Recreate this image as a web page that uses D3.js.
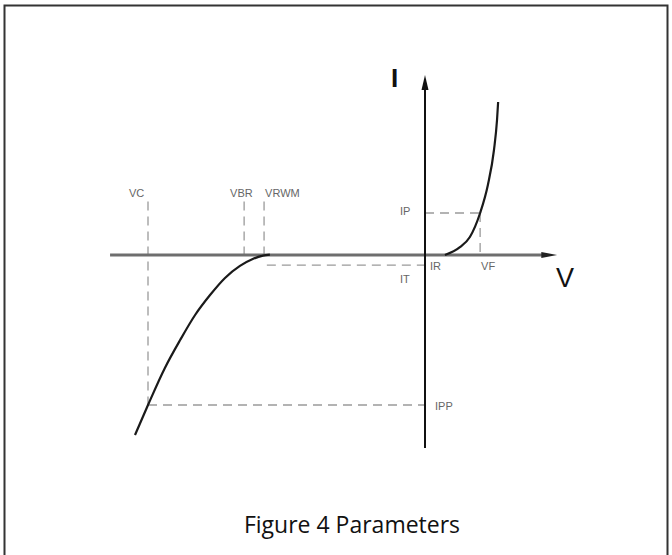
<!DOCTYPE html>
<html>
<head>
<meta charset="utf-8">
<script src="https://cdn.jsdelivr.net/npm/d3@7"></script>
<style>
  body { margin: 0; background: #fff; }
  svg { display: block; }
</style>
</head>
<body>
<div id="chart"></div>
<script>
// forward conduction branch (V, I in normalised units: VC = -1, IPP = -1)
var forwardV = [0.072, 0.126, 0.162, 0.199, 0.227, 0.249, 0.260, 0.264];
var forwardI = [0, 0.053, 0.12, 0.28, 0.467, 0.7, 0.9, 1.02];

// reverse / breakdown branch
var reverseV = [-1.047, -1.0, -0.939, -0.884, -0.830, -0.776, -0.722, -0.668, -0.620, -0.585, -0.560];
var reverseI = [-1.2, -1.0, -0.753, -0.567, -0.4, -0.267, -0.153, -0.073, -0.025, -0.004, 0.002];

// parameter markers
var voltLabels = ['VC', 'VBR', 'VRWM', 'VF'];
var voltValues = [-1.0, -0.653, -0.581, 0.199];
var currLabels = ['IP', 'IT', 'IPP', 'IR'];
var currValues = [0.28, -0.067, -1.0, 0];

var width = 672;
var height = 555;

var svg = d3.select('#chart')
    .append('svg')
    .attr('width', width)
    .attr('height', height);

// frame
svg.append('rect')
    .attr('x', 4.5)
    .attr('y', 5.5)
    .attr('width', 663)
    .attr('height', 560)
    .attr('fill', 'none')
    .attr('stroke', '#333')
    .attr('stroke-width', 2);

var x = d3.scaleLinear().domain([-1, 0]).range([148, 425]);
var y = d3.scaleLinear().domain([-1, 0]).range([405, 255]);

var line = d3.line()
    .x(function(d) { return x(d[0]); })
    .y(function(d) { return y(d[1]); })
    .curve(d3.curveMonotoneX);

var dashColor = '#9a9a9a';
var labelI = 0.357; // height where the V marker lines stop

function dash(x1, y1, x2, y2) {
    svg.append('line')
        .attr('x1', x(x1)).attr('y1', y(y1))
        .attr('x2', x(x2)).attr('y2', y(y2))
        .attr('stroke', dashColor)
        .attr('stroke-width', 1.3)
        .attr('stroke-dasharray', '9,6');
}

var VC = voltValues[0], VBR = voltValues[1], VRWM = voltValues[2], VF = voltValues[3];
var IP = currValues[0], IT = currValues[1], IPP = currValues[2];

dash(VC, labelI, VC, IPP);
dash(VBR, labelI, VBR, 0);
dash(VRWM, labelI, VRWM, 0);
dash(0, IP, VF, IP);
dash(VF, IP, VF, 0);
dash(VRWM + 0.01, IT, 0, IT);
dash(VC, IPP, 0, IPP);

// horizontal (V) axis
svg.append('line')
    .attr('x1', x(-1.137)).attr('y1', y(0))
    .attr('x2', x(0.43)).attr('y2', y(0))
    .attr('stroke', '#6e6e6e')
    .attr('stroke-width', 3);
svg.append('path')
    .attr('d', 'M' + x(0.42) + ',' + (y(0) - 3) + 'L' + x(0.477) + ',' + y(0) + 'L' + x(0.42) + ',' + (y(0) + 3) + 'Z')
    .attr('fill', '#222');

// vertical (I) axis
svg.append('line')
    .attr('x1', x(0)).attr('y1', y(-1.287))
    .attr('x2', x(0)).attr('y2', y(1.15))
    .attr('stroke', '#111')
    .attr('stroke-width', 2);
svg.append('path')
    .attr('d', 'M' + (x(0) - 3.5) + ',' + y(1.1) + 'L' + x(0) + ',' + y(1.2) + 'L' + (x(0) + 3.5) + ',' + y(1.1) + 'Z')
    .attr('fill', '#111');

// curves
svg.append('path')
    .attr('d', line(d3.zip(forwardV, forwardI)))
    .attr('fill', 'none')
    .attr('stroke', '#1a1a1a')
    .attr('stroke-width', 2.2);
svg.append('path')
    .attr('d', line(d3.zip(reverseV, reverseI)))
    .attr('fill', 'none')
    .attr('stroke', '#1a1a1a')
    .attr('stroke-width', 2.2);

// small labels
var small = {size: 11, fill: '#666', family: 'Liberation Sans, Arial, sans-serif'};
function label(txt, px, py, anchor) {
    svg.append('text')
        .attr('x', px).attr('y', py)
        .attr('text-anchor', anchor || 'start')
        .attr('font-family', small.family)
        .attr('font-size', small.size)
        .attr('fill', small.fill)
        .text(txt);
}

label(voltLabels[0], x(VC) - 19, 197);
label(voltLabels[1], x(VBR) - 14, 197);
label(voltLabels[2], x(VRWM) + 1, 197);
label(voltLabels[3], x(VF) + 1, 270);
label(currLabels[0], 400, y(IP) + 2);
label(currLabels[1], 400, y(IT) + 18);
label(currLabels[2], 435, y(IPP) + 5);
label(currLabels[3], 430, 270);

// axis names
svg.append('text')
    .attr('x', 391).attr('y', 87)
    .attr('font-family', 'Liberation Sans, Arial, sans-serif')
    .attr('font-size', 26)
    .attr('font-weight', 'bold')
    .attr('fill', '#111')
    .text('I');
svg.append('text')
    .attr('x', 556).attr('y', 287)
    .attr('font-family', 'Liberation Sans, Arial, sans-serif')
    .attr('font-size', 27)
    .attr('fill', '#111')
    .text('V');

// caption
svg.append('text')
    .attr('x', 352).attr('y', 533)
    .attr('text-anchor', 'middle')
    .attr('font-family', 'Open Sans, Noto Sans, sans-serif')
    .attr('font-size', 23)
    .attr('fill', '#111')
    .text('Figure 4 Parameters');
</script>
</body>
</html>
